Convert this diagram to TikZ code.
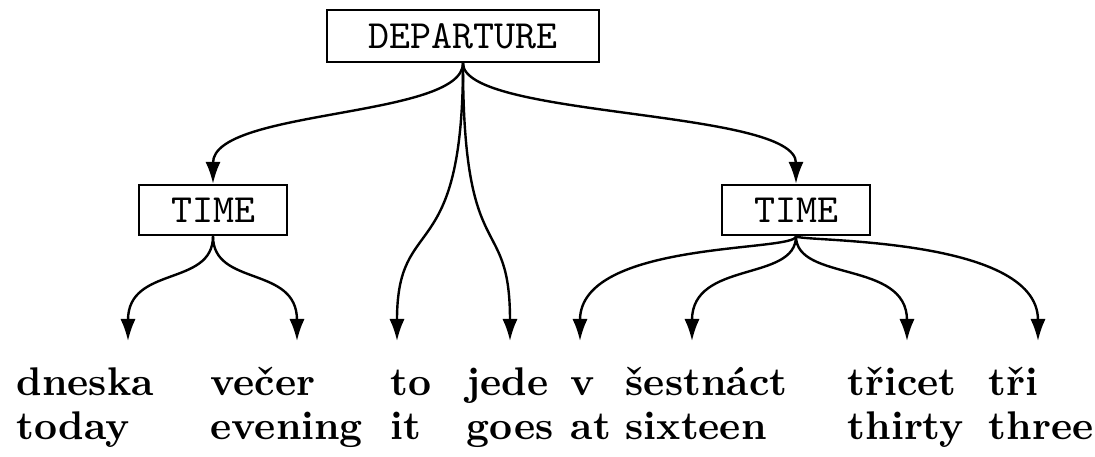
\documentclass[tikz,border=0pt]{standalone}
\usepackage{fontspec}
\usetikzlibrary{arrows.meta}

\begin{document}
\begin{tikzpicture}[
  x=0.25pt,y=-0.25pt,
  cat/.style={draw,semithick,font=\ttfamily,inner sep=0pt,minimum height=12.5pt},
  word/.style={anchor=base west,inner sep=0pt,font=\fontsize{10}{11}\selectfont\bfseries},
  dep/.style={-{Latex[length=5.5pt,width=3.8pt]},semithick}
]
  \useasboundingbox (0,0) rectangle (1095,457);
  % functor boxes
  \node[cat,minimum width=68pt,minimum height=13pt] (departure) at (463,36) {DEPARTURE};
  \node[cat,minimum width=37pt] (timeL) at (213,210) {TIME};
  \node[cat,minimum width=37pt] (timeR) at (796,210) {TIME};
  % sentence, Czech above English
  \node[word] (dneska) at (16,396) {dneska};
  \node[word] (vecer) at (210,396) {večer};
  \node[word] (to) at (390,396) {to};
  \node[word] (jede) at (466,396) {jede};
  \node[word] (v) at (570,396) {v};
  \node[word] (sestnact) at (625,396) {šestnáct};
  \node[word] (tricet) at (847,396) {třicet};
  \node[word] (tri) at (988,396) {tři};
  \node[word] (today) at (16,440) {today};
  \node[word] (evening) at (210,440) {evening};
  \node[word] (it) at (390,440) {it};
  \node[word] (goes) at (466,440) {goes};
  \node[word] (at) at (570,440) {at};
  \node[word] (sixteen) at (625,440) {sixteen};
  \node[word] (thirty) at (847,440) {thirty};
  \node[word] (three) at (988,440) {three};
  % arrow ends above the words
  \coordinate (c-dneska) at (128,341);
  \coordinate (c-vecer) at (297,341);
  \coordinate (c-to) at (397,341);
  \coordinate (c-jede) at (510,341);
  \coordinate (c-v) at (580,341);
  \coordinate (c-sestnact) at (692,341);
  \coordinate (c-tricet) at (907,341);
  \coordinate (c-tri) at (1038,341);
  % dependencies
  \draw[dep] (departure.south) .. controls +(0,55) and +(0,-75) .. (timeL.north);
  \draw[dep] (departure.south) .. controls +(0,55) and +(0,-75) .. (timeR.north);
  \draw[dep] (departure.south) .. controls +(0,208) and +(0,-131) .. (c-to);
  \draw[dep] (departure.south) .. controls +(0,208) and +(0,-131) .. (c-jede);
  \draw[dep] (timeL.south) .. controls +(0,51) and +(0,-76) .. (c-dneska);
  \draw[dep] (timeL.south) .. controls +(0,51) and +(0,-76) .. (c-vecer);
  \draw[dep] (timeR.south) .. controls +(0,16) and +(0,-101) .. (c-v);
  \draw[dep] (timeR.south) .. controls +(0,46) and +(0,-81) .. (c-sestnact);
  \draw[dep] (timeR.south) .. controls +(0,46) and +(0,-81) .. (c-tricet);
  \draw[dep] (timeR.south) .. controls +(0,6) and +(0,-106) .. (c-tri);
\end{tikzpicture}
\end{document}
